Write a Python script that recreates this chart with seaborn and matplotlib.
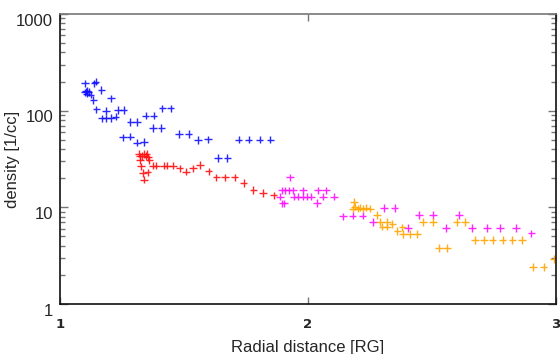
import numpy as np
import pandas as pd
import matplotlib
matplotlib.use("Agg")
import matplotlib.pyplot as plt
import matplotlib.transforms as mtransforms
from matplotlib.ticker import FixedLocator, FixedFormatter, LogLocator, NullFormatter
import seaborn as sns

# ---- data ----
blue_x = [1.101, 1.138, 1.144, 1.100, 1.105, 1.110, 1.115, 1.108, 1.123, 1.134, 1.167, 1.147,
          1.186, 1.169, 1.186, 1.205, 1.205, 1.225, 1.234, 1.257, 1.283, 1.311, 1.254, 1.283,
          1.311, 1.339, 1.345, 1.378, 1.375, 1.408, 1.412, 1.446, 1.480, 1.519, 1.557, 1.597,
          1.637, 1.675, 1.721, 1.761, 1.805, 1.848]
blue_y = [192, 192, 200, 155, 158, 160, 156, 150, 146, 129, 164, 103,
          99.5, 83.5, 83.5, 134, 84, 87, 102, 102, 76.5, 76.5, 53, 54,
          46.8, 47.5, 89, 89, 66, 66, 106, 106, 57.5, 57.5, 49.9, 50.5,
          32.5, 32.5, 50, 50, 50, 50]

red_x = [1.317, 1.339, 1.349, 1.322, 1.322, 1.360, 1.375, 1.326, 1.334, 1.353, 1.339, 1.330,
         1.345, 1.355, 1.389, 1.418, 1.433, 1.456, 1.483, 1.508, 1.536, 1.565, 1.600, 1.630,
         1.666, 1.704, 1.741, 1.780, 1.818, 1.862]
red_y = [36, 35.5, 36, 33.6, 31, 31, 27, 26.5, 22.6, 23, 19.3, 34,
         34, 33, 27, 27, 27, 27, 25.4, 23.3, 25.4, 27.5, 23.5, 20.4,
         20.4, 20.4, 17.9, 15.1, 14.1, 13.3]

magenta_x = [1.887, 1.895, 1.908, 1.922, 1.940, 1.927, 1.897, 1.905, 1.944, 1.959, 1.978,
             1.994, 2.012, 1.980, 2.036, 2.040, 2.060, 2.073, 2.105, 2.141, 2.180, 2.220,
             2.262, 2.306, 2.350, 2.403, 2.448, 2.504, 2.556, 2.609, 2.661, 2.722, 2.774,
             2.839, 2.900]
magenta_y = [12.9, 15.0, 15.0, 15.0, 15.0, 20.5, 11.0, 11.0, 12.9, 12.9, 12.9,
             12.9, 12.9, 15.0, 11.1, 15.0, 12.9, 15.0, 12.9, 8.1, 8.2, 8.2,
             7.05, 9.85, 9.85, 6.1, 8.3, 8.3, 6.1, 8.3, 6.1, 6.1, 6.1,
             6.1, 5.4]

orange_x = [2.185, 2.180, 2.190, 2.200, 2.210, 2.220, 2.235, 2.250, 2.278, 2.290, 2.318,
            2.300, 2.320, 2.340, 2.360, 2.383, 2.411, 2.440, 2.380, 2.464, 2.504, 2.528,
            2.560, 2.600, 2.633, 2.673, 2.709, 2.745, 2.785, 2.824, 2.863, 2.907, 2.950,
            2.990]
orange_y = [11.4, 9.7, 10.2, 9.7, 9.9, 9.7, 9.9, 9.7, 8.3, 7.05, 7.05,
            6.3, 6.3, 6.7, 5.7, 5.3, 5.3, 5.3, 6.2, 7.05, 7.05, 3.8,
            3.8, 7.05, 7.05, 4.6, 4.6, 4.6, 4.6, 4.6, 4.6, 2.42, 2.42,
            2.92]

series_names = ["blue", "red", "magenta", "orange"]
palette = {"blue": "#1010ff", "red": "#ff1010", "magenta": "#ff10ff", "orange": "#ffa500"}

y_ticks = [1, 10, 100, 1000]
y_tick_labels = ["1", "10", "100", "1000"]
x_ticks = [1, 2, 3]
x_tick_labels = ["1", "2", "3"]

df = pd.concat([
    pd.DataFrame({"r": blue_x, "n": blue_y, "series": "blue"}),
    pd.DataFrame({"r": red_x, "n": red_y, "series": "red"}),
    pd.DataFrame({"r": magenta_x, "n": magenta_y, "series": "magenta"}),
    pd.DataFrame({"r": orange_x, "n": orange_y, "series": "orange"}),
], ignore_index=True)

sns.set_style("white")
plt.rcParams["font.family"] = ["Liberation Sans", "DejaVu Sans"]

fig = plt.figure(figsize=(5.6, 3.54), dpi=100)
ax = fig.add_axes([60 / 560, 1 - 304 / 354, 496 / 560, 290 / 354])

sns.scatterplot(data=df, x="r", y="n", hue="series", hue_order=series_names,
                palette=palette, marker="+", s=28, linewidth=1.0, alpha=0.9,
                legend=False, ax=ax)

ax.set_yscale("log")
ax.set_xlim(1, 3)
ax.set_ylim(1, 1000)

ax.yaxis.set_major_locator(FixedLocator(y_ticks))
ax.yaxis.set_major_formatter(FixedFormatter(y_tick_labels))
ax.yaxis.set_minor_locator(LogLocator(base=10, subs=np.arange(2, 10)))
ax.yaxis.set_minor_formatter(NullFormatter())
ax.set_xticks(x_ticks)
ax.set_xticklabels(x_tick_labels)

ax.tick_params(axis="both", which="both", direction="in", color="#777777",
               left=True, bottom=True, top=True, right=True, width=1)
ax.tick_params(axis="y", which="major", length=6, labelsize=12, pad=5)
ax.tick_params(axis="y", which="minor", length=3.5)
ax.tick_params(axis="x", which="major", length=5, labelsize=9.5, pad=10)
ax.tick_params(axis="x", which="minor", bottom=False, top=False)

for lbl in ax.get_xticklabels():
    lbl.set_fontweight("bold")
    lbl.set_family(["DejaVu Sans"])

offset = mtransforms.ScaledTranslation(0, -4 / 72, fig.dpi_scale_trans)
for t in ax.yaxis.get_major_ticks():
    t.label1.set_transform(t.label1.get_transform() + offset)

for side in ["left", "bottom", "right"]:
    ax.spines[side].set_color("#111111")
    ax.spines[side].set_linewidth(1.2)
ax.spines["top"].set_color("#777777")
ax.spines["top"].set_linewidth(1.2)

ax.set_xlabel("Radial distance [RG]", fontsize=12)
ax.set_ylabel("density [1/cc]", fontsize=12)
ax.xaxis.set_label_coords(0.5, -0.125, transform=ax.transAxes)
ax.xaxis.label.set_va("top")
ax.yaxis.set_label_coords(-0.095, 0.5, transform=ax.transAxes)
ax.yaxis.label.set_va("center")

fig.savefig("out.png", dpi=100)
